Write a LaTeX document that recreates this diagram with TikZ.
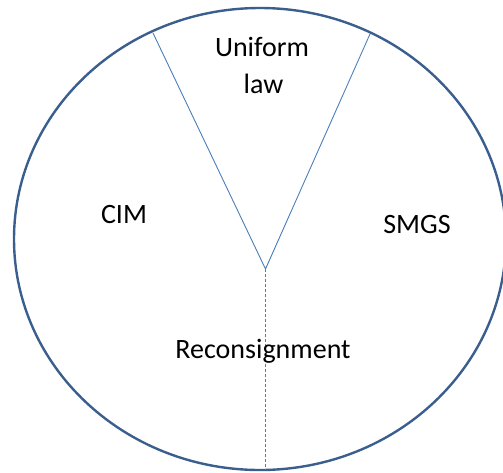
\documentclass[tikz,border=0pt]{standalone}
\usepackage{fontspec}
\setmainfont{Carlito}
\usetikzlibrary{shapes.geometric}
\definecolor{rim}{HTML}{3A5F8E}
\definecolor{spoke}{HTML}{4A7EBB}
\tikzset{
  rimstyle/.style={ellipse, draw=rim, line width=2.4pt, minimum width=492pt, minimum height=462pt, inner sep=0pt},
  spokestyle/.style={draw=spoke, line width=0.9pt},
  dashstyle/.style={draw=spoke, line width=1.1pt, dash pattern=on 3pt off 2pt},
  lbl/.style={anchor=base, inner sep=0pt, font=\fontsize{28}{33}\selectfont, text=black}
}
\begin{document}
\begin{tikzpicture}[x=1pt,y=-1pt]
\useasboundingbox (0,0) rectangle (503,472);
\node[rimstyle] (rim) at (260,239) {};
\coordinate (v) at (265.5,269);
\coordinate (tl) at (153,33);
\coordinate (tr) at (370,34);
\coordinate (bot) at (265.5,470);
\draw[spokestyle] (tl) -- (v) -- (tr);
\draw[dashstyle] (v) -- (bot);
\node[lbl] (uni) at (262,56.7) {Uniform};
\node[lbl] (law) at (263.5,93.3) {law};
\node[lbl] (cim) at (124,223) {CIM};
\node[lbl] (smgs) at (417,233.3) {SMGS};
\node[lbl] (rec) at (263,358) {Reconsignment};
\end{tikzpicture}
\end{document}
